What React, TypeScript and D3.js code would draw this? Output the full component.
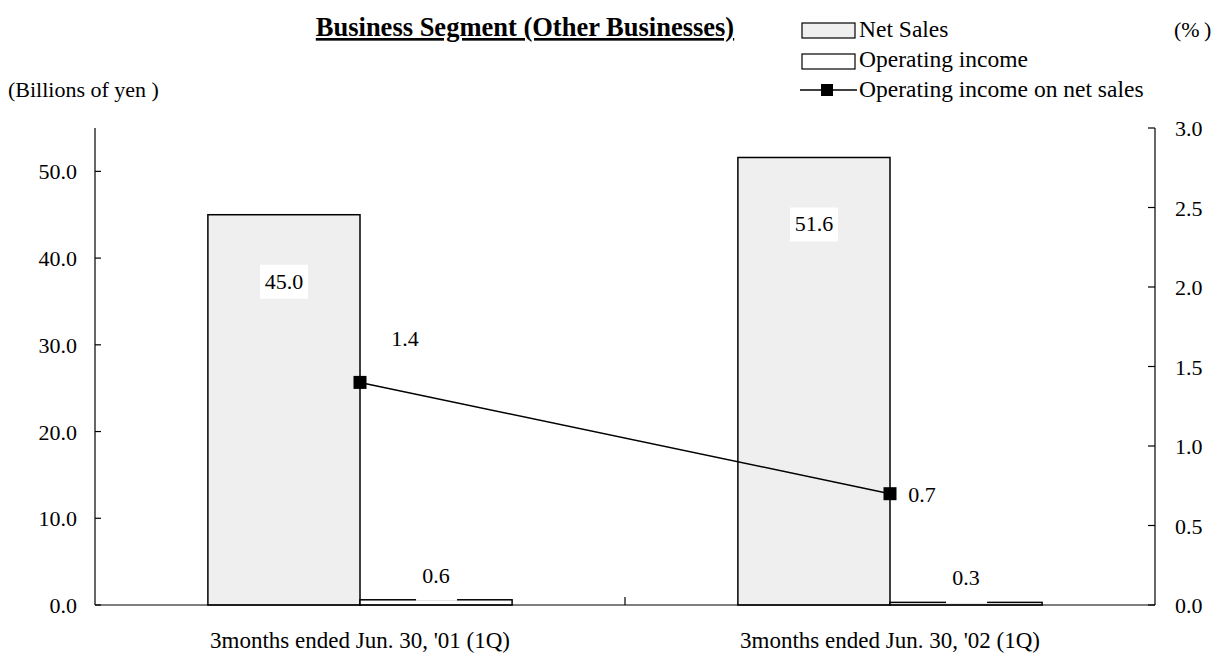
import React from "react";
import * as d3 from "d3";

// Quarterly figures for the Other Businesses segment
const categories = ["3months ended Jun. 30, '01 (1Q)", "3months ended Jun. 30, '02 (1Q)"];
const netSales = [45.0, 51.6];
const operatingIncome = [0.6, 0.3];
const incomeRatio = [1.4, 0.7];
const leftTicks = [0, 10, 20, 30, 40, 50];
const rightTicks = [0, 0.5, 1.0, 1.5, 2.0, 2.5, 3.0];

const W = 1223;
const H = 655;
const plot = { left: 95, right: 1155, top: 128, bottom: 605 };
const FONT = "'Liberation Serif', 'Times New Roman', serif";
const FS = 22;

export default function App() {
  const x = d3
    .scaleBand<string>()
    .domain(categories)
    .range([plot.left, plot.right]);
  const barW = x.bandwidth() * 0.287;
  const yL = d3.scaleLinear().domain([0, 55]).range([plot.bottom, plot.top]);
  const yR = d3.scaleLinear().domain([0, 3]).range([plot.bottom, plot.top]);
  const cx = (i: number) => (x(categories[i]) as number) + x.bandwidth() / 2;

  const line = d3
    .line<number>()
    .x((_, i) => cx(i))
    .y((d) => yR(d));

  return (
    <svg width={W} height={H} style={{ position: "absolute", left: 0, top: 0, background: "#fff" }} fontFamily={FONT}>
      {/* Title */}
      <text x={525} y={36} textAnchor="middle" fontSize={26.5} fontWeight="bold" textDecoration="underline">
        Business Segment (Other Businesses)
      </text>

      {/* Legend */}
      <rect x={802} y={23} width={53} height={15} fill="#efefef" stroke="#000" strokeWidth={1.2} />
      <text x={859} y={37} fontSize={23.5}>Net Sales</text>
      <rect x={802} y={54} width={53} height={15} fill="#fff" stroke="#000" strokeWidth={1.2} />
      <text x={859} y={67} fontSize={23.5}>Operating income</text>
      <line x1={800} x2={857} y1={90} y2={90} stroke="#000" strokeWidth={1.5} />
      <rect x={821} y={84} width={12} height={12} fill="#000" />
      <text x={859} y={97} fontSize={23.5}>Operating income on net sales</text>

      {/* Axis unit captions */}
      <text x={1174} y={37} fontSize={FS}>(%</text>
      <text x={1204} y={37} fontSize={FS}>)</text>
      <text x={8} y={97} fontSize={FS}>(Billions of yen )</text>

      {/* Bars */}
      {categories.map((c, i) => {
        const x0 = cx(i);
        return (
          <g key={c}>
            <rect
              x={x0 - barW}
              y={yL(netSales[i])}
              width={barW}
              height={yL(0) - yL(netSales[i])}
              fill="#efefef"
              stroke="#000"
              strokeWidth={1.5}
            />
            <rect
              x={x0}
              y={yL(operatingIncome[i])}
              width={barW}
              height={yL(0) - yL(operatingIncome[i])}
              fill="#fff"
              stroke="#000"
              strokeWidth={1.5}
            />
          </g>
        );
      })}

      {/* Axes */}
      <g stroke="#000" strokeWidth={1.2}>
        <line x1={plot.left} x2={plot.left} y1={plot.top} y2={plot.bottom} />
        <line x1={plot.right} x2={plot.right} y1={plot.top} y2={plot.bottom} />
        <line x1={plot.left} x2={plot.right} y1={plot.bottom} y2={plot.bottom} />
        <line x1={plot.left + x.bandwidth()} x2={plot.left + x.bandwidth()} y1={plot.bottom - 8} y2={plot.bottom} />
        {leftTicks.map((t) => (
          <line key={"l" + t} x1={plot.left} x2={plot.left + 6} y1={yL(t)} y2={yL(t)} />
        ))}
        {rightTicks.map((t) => (
          <line key={"r" + t} x1={plot.right - 7} x2={plot.right} y1={yR(t)} y2={yR(t)} />
        ))}
      </g>
      {leftTicks.map((t) => (
        <text key={"lt" + t} x={77} y={yL(t) + 8} fontSize={FS} textAnchor="end">
          {t.toFixed(1)}
        </text>
      ))}
      {rightTicks.map((t) => (
        <text key={"rt" + t} x={1175} y={yR(t) + 8} fontSize={FS}>
          {t.toFixed(1)}
        </text>
      ))}
      {categories.map((c, i) => (
        <text key={"c" + i} x={cx(i)} y={648} fontSize={23} textAnchor="middle">
          {c}
        </text>
      ))}

      {/* Ratio line */}
      <path d={line(incomeRatio) || ""} fill="none" stroke="#000" strokeWidth={1.5} />
      {incomeRatio.map((v, i) => (
        <rect key={"m" + i} x={cx(i) - 6.5} y={yR(v) - 6.5} width={13} height={13} fill="#000" />
      ))}

      {/* Data labels */}
      {netSales.map((v, i) => (
        <g key={"ns" + i}>
          <rect x={cx(i) - barW / 2 - 24} y={yL(v) + 50} width={48} height={34} fill="#fff" />
          <text x={cx(i) - barW / 2} y={yL(v) + 74} fontSize={FS} textAnchor="middle">
            {v.toFixed(1)}
          </text>
        </g>
      ))}
      {operatingIncome.map((v, i) => (
        <g key={"oi" + i}>
          <rect x={cx(i) + barW / 2 - 20} y={yL(v) - 34} width={41} height={35} fill="#fff" />
          <text x={cx(i) + barW / 2} y={yL(v) - 17} fontSize={FS} textAnchor="middle">
            {v.toFixed(1)}
          </text>
        </g>
      ))}
      <text x={cx(0) + 45} y={yR(incomeRatio[0]) - 36} fontSize={FS} textAnchor="middle">
        {incomeRatio[0].toFixed(1)}
      </text>
      <text x={cx(1) + 32} y={yR(incomeRatio[1]) + 8} fontSize={FS} textAnchor="middle">
        {incomeRatio[1].toFixed(1)}
      </text>
    </svg>
  );
}
